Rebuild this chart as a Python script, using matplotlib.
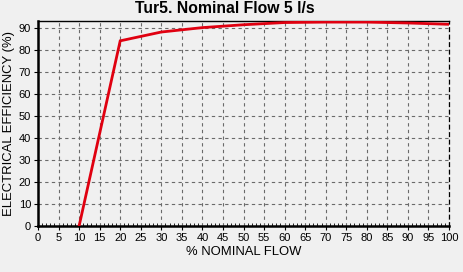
import matplotlib
matplotlib.use("Agg")
import matplotlib.pyplot as plt
from matplotlib.ticker import MultipleLocator

flow = [10, 20, 30, 40, 50, 60, 70, 80, 90, 100]
efficiency = [0, 84, 88, 90, 91.3, 92.3, 92.5, 92.5, 92.1, 91.5]
x_ticks = list(range(0, 101, 5))
y_ticks = list(range(0, 91, 10))

plt.rcParams['font.family'] = ['Liberation Sans', 'DejaVu Sans']
bg = '#f0f0f0'
fig = plt.figure(figsize=(4.63, 2.72), dpi=100, facecolor=bg)
ax = fig.add_axes([38/463, 1-226/272, (449-38)/463, (226-21)/272], facecolor=bg)

ax.plot(flow, efficiency, color='#e00010', lw=2, solid_joinstyle='miter', zorder=3)

ax.set_xlim(0, 100)
ax.set_ylim(0, 93)
ax.set_xticks(x_ticks)
ax.set_yticks(y_ticks)
ax.xaxis.set_minor_locator(MultipleLocator(1))
ax.tick_params(axis='both', which='major', labelsize=8, length=3, width=0.8, pad=2, colors='black')
ax.tick_params(axis='x', which='minor', length=2, direction='in', width=0.6)
ax.grid(True, which='major', linestyle=(0, (3, 3)), color='#6a6a6a', lw=0.8)

for s in ['left', 'bottom']:
    ax.spines[s].set_linewidth(1.8)
ax.spines['top'].set_linewidth(1.0)
ax.spines['right'].set_linestyle((0, (3, 3)))
ax.spines['right'].set_linewidth(0.9)

ax.set_xlabel('% NOMINAL FLOW', fontsize=9.4, labelpad=2)
ax.set_ylabel('ELECTRICAL EFFICIENCY (%)', fontsize=9.4, labelpad=3)
fig.text(225/463, 0.998, 'Tur5. Nominal Flow 5 l/s', ha='center', va='top', fontsize=11.3, fontweight='bold')

fig.savefig('out.png', dpi=100, facecolor=bg)
